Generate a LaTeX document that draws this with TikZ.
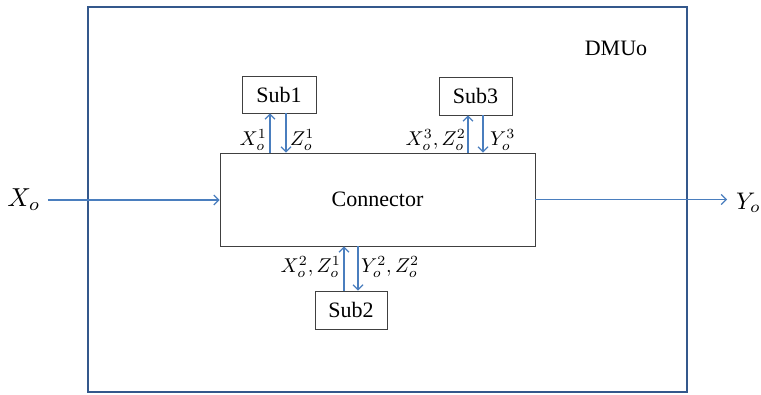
\documentclass[tikz,border=0pt]{standalone}
\usepackage{fontspec}
\setmainfont{Liberation Serif}
\usetikzlibrary{positioning,arrows.meta}

\newcommand{\flowlbl}[2][2.0]{\scalebox{#1}{$#2$}}

\begin{document}
\begin{tikzpicture}[x=1pt, y=-1pt]

\definecolor{cFrame}{RGB}{52,88,140}
\definecolor{cFlow}{RGB}{74,126,190}

\tikzset{
  unit/.style = {draw=black!75, line width=0.8pt, font=\fontsize{22}{24}\selectfont},
  flow/.style = {cFlow, -{Straight Barb[length=5pt, width=10pt]}, line width=1.2pt},
  lbl/.style  = {inner sep=0pt},
}

\useasboundingbox (0,0) rectangle (761,395);

%% ---------- the DMU frame ----------
\draw[cFrame, line width=2.4pt] (88,7) rectangle (687,392);
\node[font=\fontsize{22}{24}\selectfont] (dmu) at (616,48) {DMUo};

%% ---------- connector and the three subs ----------
\node[unit, minimum width=315pt, minimum height=93pt] (conn) at (377.5,199.5) {Connector};
\node[unit, minimum width=74pt, minimum height=37pt] (sub1) at (279,94.5) {Sub1};
\node[unit, minimum width=73pt, minimum height=38pt] (sub3) at (475.5,96) {Sub3};
\node[unit, minimum width=72pt, minimum height=38pt] (sub2) at (351,310) {Sub2};

%% ---------- outside inputs and outputs ----------
\node[lbl] (xo) at (24,200) {\flowlbl[2.6]{X_o}};
\node[lbl, anchor=west] (yo) at (736,203) {\flowlbl[2.4]{Y_o}};
\draw[flow] (xo.east) ++(7,0) coordinate (xin) -- (xin -| conn.west);
\draw[flow] (conn.east) -- ([xshift=-9pt]conn.east -| yo.west);

%% ---------- links to the subs ----------
\draw[flow] ([xshift=-9pt]sub1.south |- conn.north) -- ([xshift=-9pt]sub1.south);
\draw[flow] ([xshift=7pt]sub1.south) -- ([xshift=7pt]sub1.south |- conn.north);
\draw[flow] ([xshift=-7.5pt]sub3.south |- conn.north) -- ([xshift=-7.5pt]sub3.south);
\draw[flow] ([xshift=7.5pt]sub3.south) -- ([xshift=7.5pt]sub3.south |- conn.north);
\draw[flow] ([xshift=-7pt]sub2.north) -- ([xshift=-7pt]sub2.north |- conn.south);
\draw[flow] ([xshift=7pt]sub2.north |- conn.south) -- ([xshift=7pt]sub2.north);

%% ---------- flow labels ----------
\node[lbl, anchor=east] (l1a) at (267,140) {\flowlbl{X_o^1}};
\node[lbl, anchor=west] (l1b) at (290,140) {\flowlbl{Z_o^1}};
\node[lbl, anchor=east] (l3a) at (466,140) {\flowlbl{X_o^3, Z_o^2}};
\node[lbl, anchor=west] (l3b) at (490,140) {\flowlbl{Y_o^3}};
\node[lbl, anchor=east] (l2a) at (341,267) {\flowlbl{X_o^2, Z_o^1}};
\node[lbl, anchor=west] (l2b) at (361,267) {\flowlbl{Y_o^2, Z_o^2}};

\end{tikzpicture}
\end{document}
